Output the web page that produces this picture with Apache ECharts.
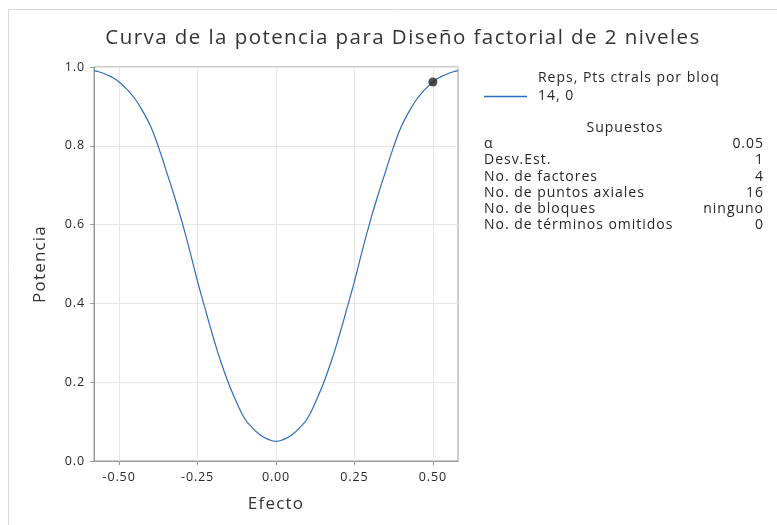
<!DOCTYPE html>
<html>
<head>
<meta charset="utf-8">
<script src="https://cdn.jsdelivr.net/npm/echarts@6/dist/echarts.min.js"></script>
<style>html,body{margin:0;padding:0;background:#fff}#c{width:777px;height:525px}</style>
</head>
<body>
<div id="c"></div>
<script>
const effectValues = [-0.58,-0.575,-0.55,-0.525,-0.5,-0.475,-0.45,-0.425,-0.4,-0.375,-0.35,-0.325,-0.3,-0.275,-0.25,-0.225,-0.2,-0.175,-0.15,-0.125,-0.1,-0.075,-0.05,-0.025,0,
  0.025,0.05,0.075,0.1,0.125,0.15,0.175,0.2,0.225,0.25,0.275,0.3,0.325,0.35,0.375,0.4,0.425,0.45,0.475,0.5,0.525,0.55,0.575,0.58];
const powerValues = [0.991,0.990,0.984,0.975,0.962,0.943,0.920,0.888,0.850,0.798,0.737,0.675,0.608,0.534,0.456,0.384,0.314,0.250,0.195,0.148,0.108,0.084,0.066,0.055,0.05,
  0.055,0.066,0.084,0.108,0.148,0.195,0.250,0.314,0.384,0.456,0.534,0.608,0.675,0.737,0.798,0.850,0.888,0.920,0.943,0.962,0.975,0.984,0.990,0.991];
const designPoint = [0.5, 0.962];
const xTicks = [-0.5, -0.25, 0, 0.25, 0.5];
const seriesName = '14, 0';
const legendTitle = 'Reps, Pts ctrals por bloq';
const assumpTitle = 'Supuestos';
const assumpLabels = ['α','Desv.Est.','No. de factores','No. de puntos axiales','No. de bloques','No. de términos omitidos'];
const assumpValues = ['0.05','1','4','16','ninguno','0'];

// slightly wider letter spacing, like the reference's text rendering
(function(){
  const P = CanvasRenderingContext2D.prototype;
  function setLS(ctx){
    const m = /(\d+(?:\.\d+)?)px/.exec(ctx.font || '');
    const s = m ? parseFloat(m[1]) : 12;
    try { ctx.letterSpacing = (s*0.07).toFixed(2)+'px'; } catch(e){}
  }
  const f = P.fillText, mt = P.measureText;
  P.fillText = function(){ setLS(this); return f.apply(this, arguments); };
  P.measureText = function(){ setLS(this); return mt.apply(this, arguments); };
})();

const FONT = '"Open Sans", "Noto Sans", sans-serif';
const TXT = '#262626';
const chart = echarts.init(document.getElementById('c'));
const graphics = [
  {type:'rect', shape:{x:8.5,y:9.5,width:800,height:600}, style:{fill:'none',stroke:'#d9d9d9',lineWidth:1}, z:-10},
  {type:'text', style:{x:538, y:78, text:legendTitle, font:'14px '+FONT, fill:TXT, textVerticalAlign:'middle'}},
  {type:'text', style:{x:625, y:128, text:assumpTitle, font:'14px '+FONT, fill:TXT, textAlign:'center', textVerticalAlign:'middle'}}
];
assumpLabels.forEach((l,i)=>{
  graphics.push({type:'text', style:{x:484, y:144+i*16.3, text:l, font:'14px '+FONT, fill:TXT, textAlign:'left', textVerticalAlign:'middle'}});
  graphics.push({type:'text', style:{x:764, y:144+i*16.3, text:assumpValues[i], font:'14px '+FONT, fill:TXT, textAlign:'right', textVerticalAlign:'middle'}});
});

chart.setOption({
  animation:false,
  title:{text:'Curva de la potencia para Diseño factorial de 2 niveles', left:398, top:22, textAlign:'center',
    textStyle:{fontFamily:FONT, fontSize:20.5, fontWeight:'normal', color:'#333'}},
  grid:{left:94, right:319, top:67, bottom:64, show:true, borderColor:'#999', borderWidth:1, backgroundColor:'#fff'},
  legend:{data:[{name:seriesName, icon:'rect'}], left:484, top:89, padding:0, itemWidth:43, itemHeight:1.3,
    textStyle:{fontFamily:FONT, fontSize:14, color:TXT, padding:[0,0,0,6]}},
  xAxis:{type:'value', min:-0.58, max:0.58, name:'Efecto', nameLocation:'middle', nameGap:34,
    nameTextStyle:{fontFamily:FONT, fontSize:17, color:'#333'},
    axisLine:{onZero:false, lineStyle:{color:'#999'}},
    axisTick:{show:true, customValues:xTicks, length:4, lineStyle:{color:'#999'}},
    axisLabel:{customValues:xTicks, fontFamily:FONT, fontSize:12.5, color:TXT, margin:9, formatter:v=>v.toFixed(2)},
    splitLine:{show:true, lineStyle:{color:'#e6e6e6'}}},
  yAxis:{type:'value', min:0, max:1, interval:0.2, name:'Potencia', nameLocation:'middle', nameGap:45,
    nameTextStyle:{fontFamily:FONT, fontSize:17, color:'#333'},
    axisLine:{show:true, onZero:false, lineStyle:{color:'#999'}},
    axisTick:{show:true, length:4, lineStyle:{color:'#999'}},
    axisLabel:{fontFamily:FONT, fontSize:12.5, color:TXT, margin:9, formatter:v=>v.toFixed(1)},
    splitLine:{show:true, lineStyle:{color:'#e6e6e6'}}},
  series:[
    {name:seriesName, type:'line', data:effectValues.map((e,i)=>[e,powerValues[i]]), smooth:true, symbol:'none',
      lineStyle:{color:'#2a6ebb', width:1.2}, itemStyle:{color:'#2a6ebb'}},
    {name:'punto', type:'scatter', data:[designPoint], symbolSize:9, itemStyle:{color:'#222'}, z:5}
  ],
  graphic:graphics
});
</script>
</body>
</html>
